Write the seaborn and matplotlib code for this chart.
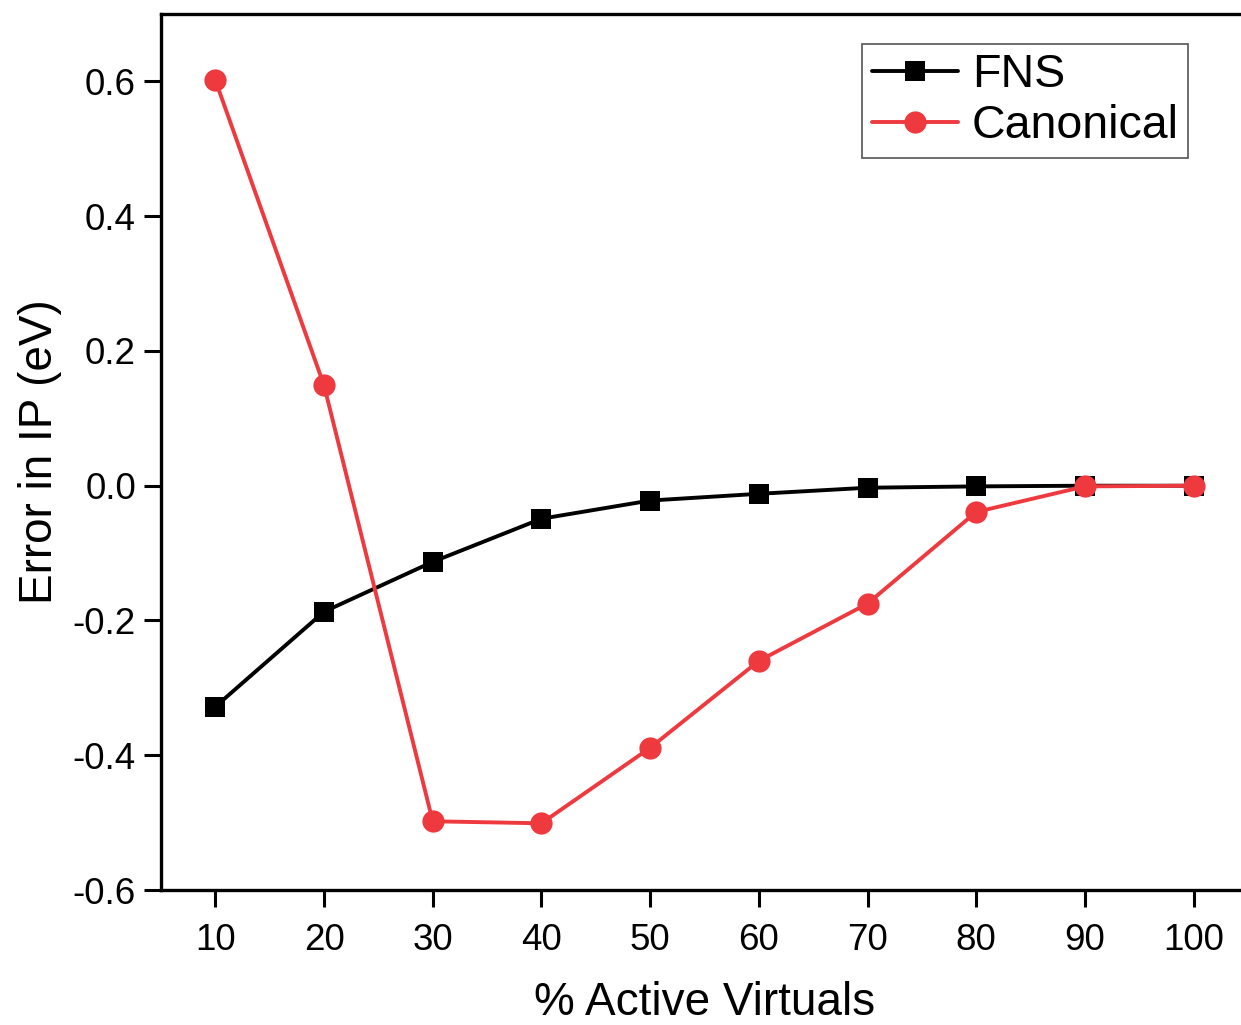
import numpy as np
import pandas as pd
import matplotlib
matplotlib.use("Agg")
import matplotlib.pyplot as plt
import seaborn as sns

# % of virtual orbitals kept active
active_virtuals = [10, 20, 30, 40, 50, 60, 70, 80, 90, 100]
# Error in ionization potential (eV)
fns_error = [-0.328, -0.187, -0.113, -0.049, -0.022, -0.012, -0.003, -0.001, 0.000, 0.000]
canonical_error = [0.602, 0.149, -0.498, -0.501, -0.389, -0.260, -0.175, -0.039, -0.001, 0.000]

x_ticks = [10, 20, 30, 40, 50, 60, 70, 80, 90, 100]
y_ticks = [-0.6, -0.4, -0.2, 0.0, 0.2, 0.4, 0.6]

df = pd.DataFrame({
    "pct": active_virtuals * 2,
    "err": fns_error + canonical_error,
    "method": ["FNS"] * len(fns_error) + ["Canonical"] * len(canonical_error),
})

sns.set_theme(style="ticks")
plt.rcParams["font.family"] = ["Liberation Sans", "DejaVu Sans"]
plt.rcParams["text.color"] = "black"
plt.rcParams["axes.labelcolor"] = "black"

fig = plt.figure(figsize=(12.41, 10.25), dpi=100)
ax = fig.add_axes([0.1297, 0.1317, 1.0056 - 0.1297, 0.9863 - 0.1317])

palette = {"FNS": "#000000", "Canonical": "#EE3A3F"}
markers = {"FNS": "s", "Canonical": "o"}
sizes_ms = {"FNS": 14, "Canonical": 16}

for name in ["FNS", "Canonical"]:
    sub = df[df["method"] == name]
    sns.lineplot(data=sub, x="pct", y="err", ax=ax, color=palette[name],
                 marker=markers[name], markersize=sizes_ms[name],
                 markeredgewidth=0, linewidth=2.8, label=name)

ax.set_xlim(5, 105)
ax.set_ylim(-0.6, 0.7)
ax.set_xticks(x_ticks)
ax.set_yticks(y_ticks)
ax.set_yticklabels([f"{v:.1f}" for v in y_ticks])
ax.tick_params(axis="both", direction="out", length=12, width=2.2,
               labelsize=26.5, color="black", labelcolor="black")
ax.tick_params(axis="x", pad=12)
ax.tick_params(axis="y", pad=6)
for side in ["left", "bottom", "top"]:
    ax.spines[side].set_linewidth(2.4)
    ax.spines[side].set_color("black")
ax.spines["right"].set_visible(False)

ax.set_xlabel("% Active Virtuals", fontsize=33, labelpad=16, color="black")
ax.set_ylabel("Error in IP (eV)", fontsize=33, labelpad=8, color="black")

leg = ax.legend(loc="upper right", bbox_to_anchor=(1188 / 1241, 1 - 44 / 1025),
                bbox_transform=fig.transFigure, fontsize=33.5, frameon=True,
                fancybox=False, framealpha=1, edgecolor="#555555",
                handlelength=1.85, handletextpad=0.3, borderpad=0.2,
                labelspacing=0.15, borderaxespad=0)
leg.get_frame().set_linewidth(1.2)
for t in leg.get_texts():
    t.set_color("black")

fig.savefig("out.png", dpi=100)
